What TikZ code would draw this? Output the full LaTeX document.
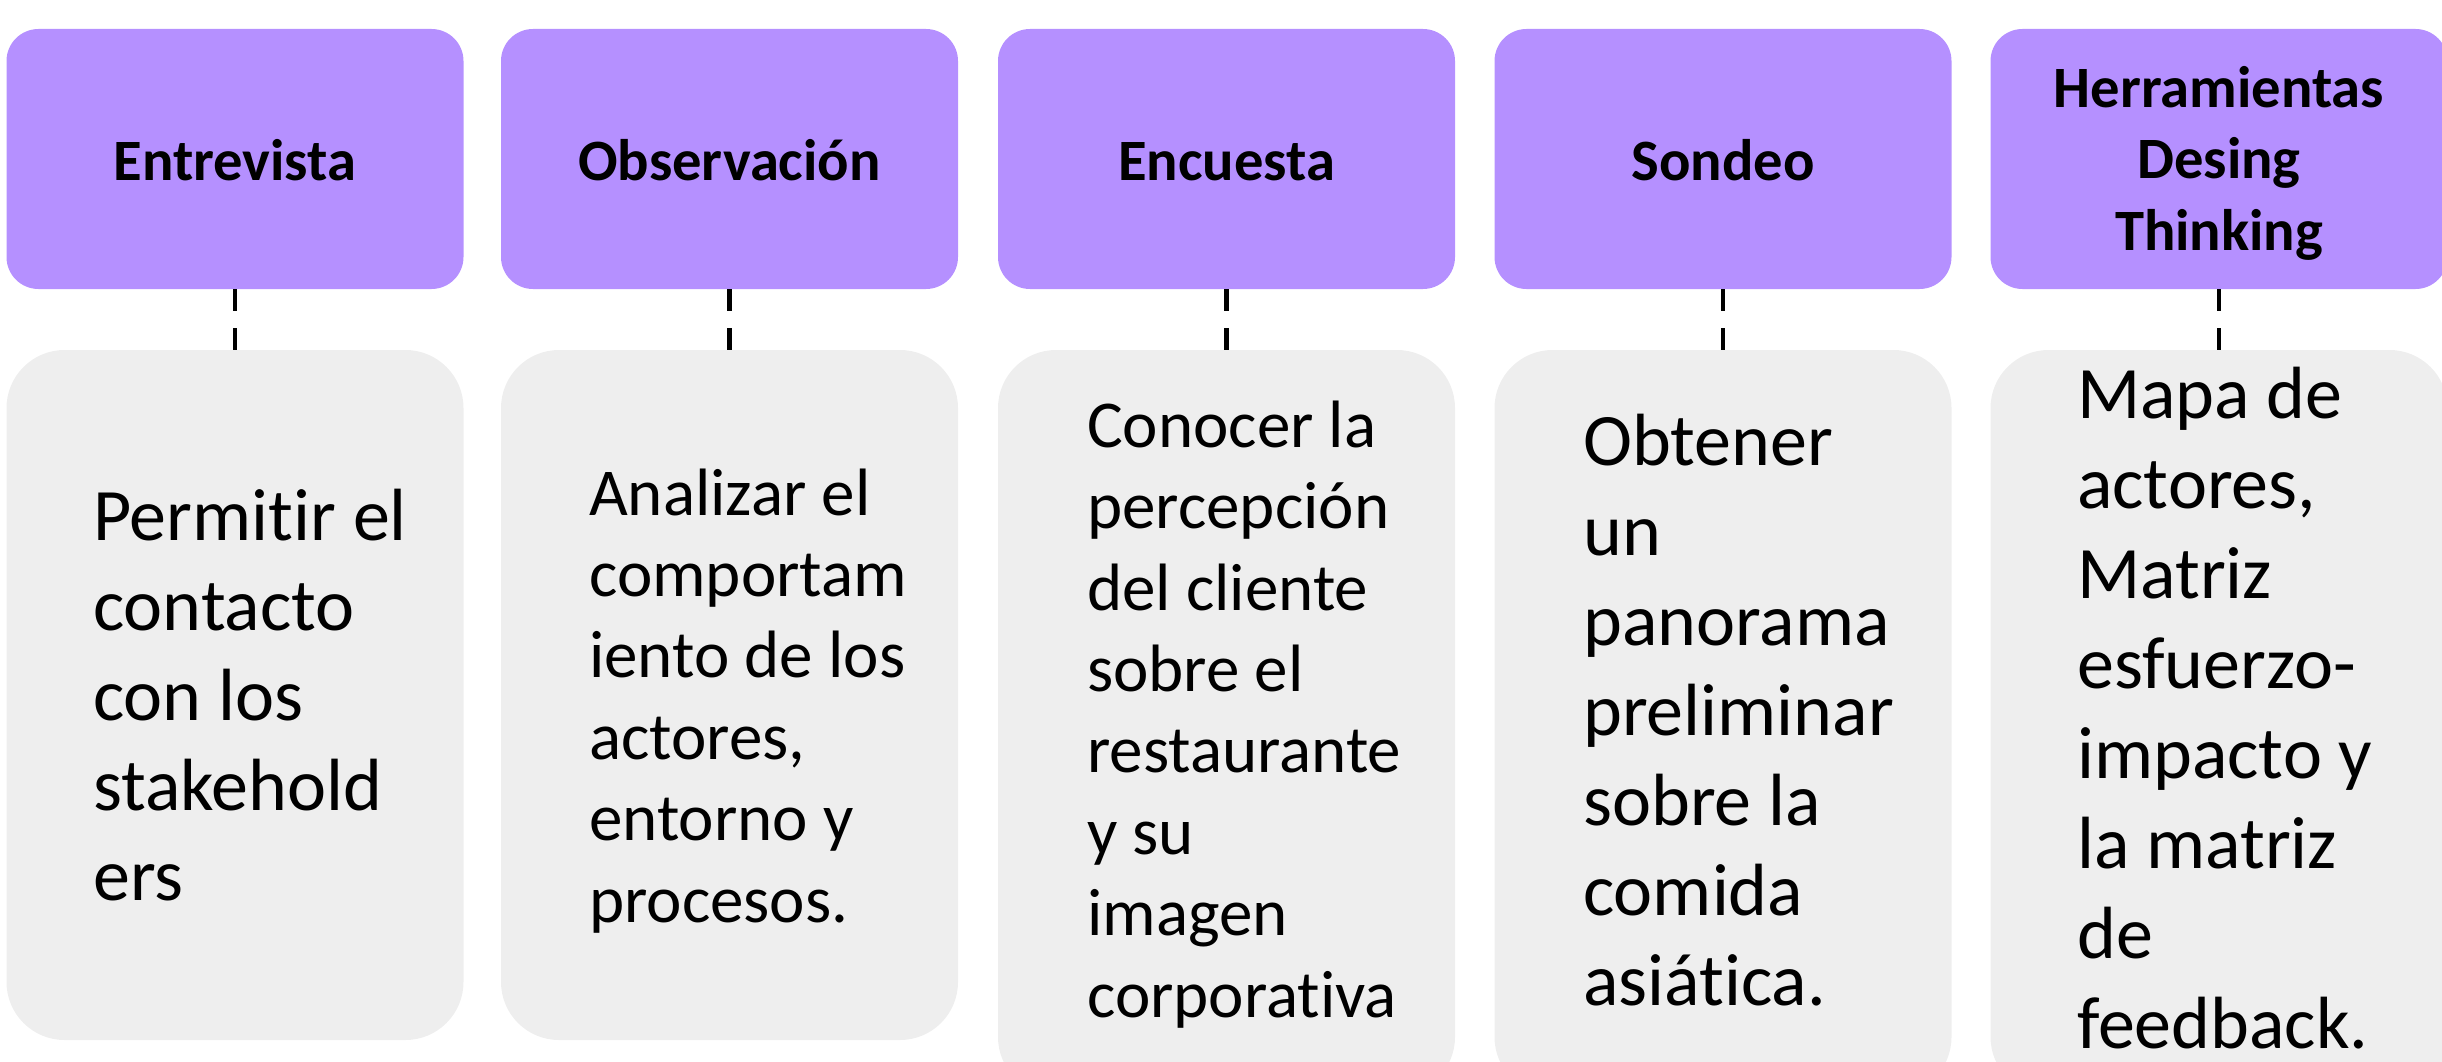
\documentclass[tikz,border=0pt]{standalone}
\usepackage{fontspec}
\setmainfont{Carlito}[Ligatures=NoCommon]
\definecolor{purp}{HTML}{B590FF}
\definecolor{lgray}{HTML}{EEEEEE}
\tikzset{
  headbox/.style={fill=purp, draw=none, rounded corners=32pt, minimum width=457pt, minimum height=260pt, inner sep=0pt},
  headtext/.style={anchor=base, inner sep=0pt, align=center, font=\fontsize{58.6}{71.5}\selectfont\bfseries},
  bodybox/.style={fill=lgray, draw=none, rounded corners=58pt, inner sep=0pt, minimum width=457pt},
  bodytext/.style={anchor=base west, inner sep=0pt, align=left},
  bigtext/.style={bodytext, font=\fontsize{74}{90}\selectfont},
  midtext/.style={bodytext, font=\fontsize{67}{81.4}\selectfont},
  link/.style={line width=4.5pt, dash pattern=on 22pt off 17pt},
}
\begin{document}
\begin{tikzpicture}[x=1pt,y=-1pt]
\useasboundingbox (0,0) rectangle (2442,1062);
\clip (0,0) rectangle (2442,1062);
% header boxes
\node[headbox] (t1) at (235,159) {};
\node[headbox] (t2) at (729.5,159) {};
\node[headbox] (t3) at (1226.5,159) {};
\node[headbox] (t4) at (1723,159) {};
\node[headbox] (t5) at (2219,159) {};
% header texts (anchored at the baseline of the last line)
\node[headtext] (h1) at (235,180) {Entrevista};
\node[headtext] (h2) at (729.5,180) {Observación};
\node[headtext] (h3) at (1226.5,180) {Encuesta};
\node[headtext] (h4) at (1723,180) {Sondeo};
\node[headtext] (h5) at (2219,250) {Herramientas\\Desing\\Thinking};
% body boxes
\node[bodybox, minimum height=690pt] (b1) at (235,695) {};
\node[bodybox, minimum height=690pt] (b2) at (729.5,695) {};
\node[bodybox, minimum height=745pt] (b3) at (1226.5,722.5) {};
\node[bodybox, minimum height=745pt] (b4) at (1723,722.5) {};
\node[bodybox, minimum height=745pt] (b5) at (2219,722.5) {};
% connectors
\foreach \i in {1,...,5} {\draw[link] (t\i.south) -- (b\i.north);}
% body texts (anchored at the baseline of the last line)
\node[bigtext] (x1) at (93,900) {Permitir el\\contacto\\con los\\stakehold\\ers};
\node[midtext] (x2) at (589,922) {Analizar el\\comportam\\iento de los\\actores,\\entorno y\\procesos.};
\node[midtext] (x3) at (1087,1017) {Conocer la\\percepción\\del cliente\\sobre el\\restaurante\\y su\\imagen\\corporativa};
\node[bigtext] (x4) at (1583,1005) {Obtener\\un\\panorama\\preliminar\\sobre la\\comida\\asiática.};
\node[bigtext] (x5) at (2077,1048) {Mapa de\\actores,\\Matriz\\esfuerzo-\\impacto y\\la matriz\\de\\feedback.};
\end{tikzpicture}
\end{document}
